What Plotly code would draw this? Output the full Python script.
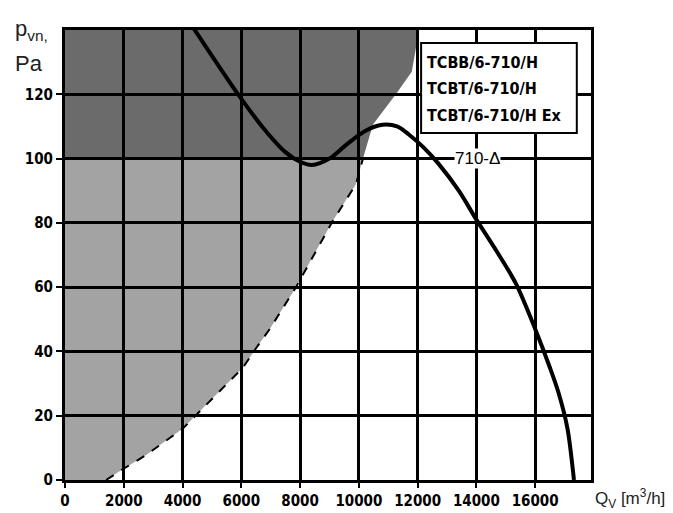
import plotly.graph_objects as go

# Fan curve 710-Δ (air flow m3/h, pressure Pa)
curve_q = [4380, 5850, 6740, 7500, 8000, 8400, 9000, 9600, 10200, 10800, 11300, 11700,
           12200, 12700, 13400, 14000, 14700, 15350, 16000, 16500, 16800, 17100, 17320]
curve_p = [140.5, 120.5, 109.6, 102, 99, 98, 100, 104.5, 108.5, 110.5, 110, 107.5,
           103.5, 98.5, 90, 81, 71, 61, 47, 35, 27, 16, 0]

# Boundary of the shaded (not recommended) zone, bottom part (dashed line)
boundary_q = [1400, 1870, 2760, 4010, 5140, 6060, 6500, 6970, 7860, 8340, 9120, 9900, 10140]
boundary_p = [0, 2.8, 7.8, 16, 26.5, 35, 41, 47, 60, 68, 80.7, 92, 100]
# Boundary, upper part (dark zone)
upper_q = [10140, 10480, 11260, 11800, 12050]
upper_p = [100, 110.6, 120, 127, 140]

x_ticks = [0, 2000, 4000, 6000, 8000, 10000, 12000, 14000, 16000]
y_ticks = [0, 20, 40, 60, 80, 100, 120]
legend_lines = ["TCBB/6-710/H", "TCBT/6-710/H", "TCBT/6-710/H Ex"]
curve_label = "710-Δ"

X_MAX, Y_MAX, SPLIT = 17900, 140, 100

fig = go.Figure()

# light shaded zone (below 100 Pa)
light_x = [0] + boundary_q + [0]
light_y = [0] + boundary_p + [SPLIT]
fig.add_trace(go.Scatter(x=light_x, y=light_y, fill="toself", mode="none",
                         fillcolor="rgba(0,0,0,0.36)", hoverinfo="skip", showlegend=False))
# dark shaded zone (above 100 Pa)
dark_x = [0] + upper_q + [0]
dark_y = [SPLIT] + upper_p + [Y_MAX]
fig.add_trace(go.Scatter(x=dark_x, y=dark_y, fill="toself", mode="none",
                         fillcolor="rgba(0,0,0,0.58)", hoverinfo="skip", showlegend=False))
# dashed boundary line
fig.add_trace(go.Scatter(x=boundary_q, y=boundary_p, mode="lines",
                         line=dict(color="black", width=2, dash="dash"),
                         hoverinfo="skip", showlegend=False))
# fan curve
fig.add_trace(go.Scatter(x=curve_q, y=curve_p, mode="lines", line_shape="spline",
                         line=dict(color="black", width=4, smoothing=0.8), showlegend=False))

tick_font = dict(family="DejaVu Sans Condensed, DejaVu Sans", size=15, color="black",
                 weight="bold")

fig.update_xaxes(range=[0, X_MAX], tickvals=x_ticks, ticktext=[str(v) for v in x_ticks],
                 showgrid=True, gridcolor="black", gridwidth=2.5, zeroline=False,
                 showline=True, linecolor="black", linewidth=3, mirror=True,
                 ticks="outside", ticklen=5, tickwidth=2, tickcolor="black",
                 tickfont=tick_font)
fig.update_yaxes(range=[0, Y_MAX], tickvals=y_ticks, ticktext=[str(v) for v in y_ticks],
                 showgrid=True, gridcolor="black", gridwidth=2.5, zeroline=False,
                 showline=True, linecolor="black", linewidth=3, mirror=True,
                 ticks="outside", ticklen=6, tickwidth=2, tickcolor="black",
                 tickfont=tick_font)

# legend box
fig.add_shape(type="rect", xref="paper", yref="paper", x0=0.677, x1=0.973, y0=0.771, y1=0.971,
              fillcolor="white", line=dict(color="black", width=2), layer="above")
for i, t in enumerate(legend_lines):
    fig.add_annotation(xref="paper", yref="paper", x=0.685, y=0.928 - i * 0.059, text="<b>" + t + "</b>",
                       showarrow=False, xanchor="left", yanchor="middle",
                       font=dict(family="DejaVu Sans Condensed, DejaVu Sans", size=16, color="black"))

fig.add_annotation(x=14050, y=100, text=curve_label, showarrow=False, bgcolor="white",
                   borderpad=0, font=dict(family="Liberation Sans, Arial", size=17, color="black"))

# axis titles
fig.add_annotation(xref="paper", yref="paper", x=-0.098, y=1.0, text="p<sub>vn,</sub>",
                   showarrow=False, xanchor="left", yanchor="middle",
                   font=dict(family="Liberation Sans, Arial", size=22, color="#222"))
fig.add_annotation(xref="paper", yref="paper", x=-0.098, y=0.925, text="Pa",
                   showarrow=False, xanchor="left", yanchor="middle",
                   font=dict(family="Liberation Sans, Arial", size=22, color="#222"))
fig.add_annotation(xref="paper", yref="paper", x=1.004, y=-0.04, text="Q<sub>V</sub> [m<sup>3</sup>/h]",
                   showarrow=False, xanchor="left", yanchor="middle",
                   font=dict(family="Liberation Sans, Arial", size=17, color="#222"))

fig.update_layout(width=673, height=513, margin=dict(l=57, r=90, t=22, b=41),
                  paper_bgcolor="white", plot_bgcolor="white", showlegend=False)

fig.write_html("out.html")
